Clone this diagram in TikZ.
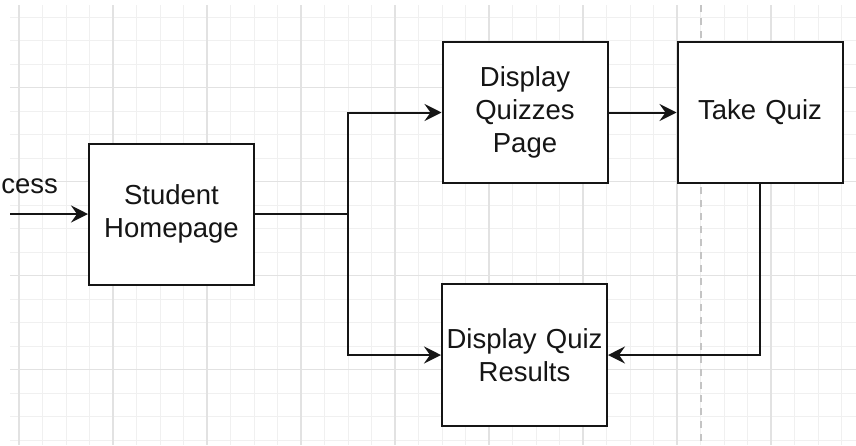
\documentclass[tikz,border=0pt]{standalone}
\usepackage{fontspec}
\setmainfont{Liberation Sans}
\usetikzlibrary{arrows.meta}
\definecolor{minorgrid}{HTML}{F0F0F0}
\definecolor{majorgrid}{HTML}{E2E2E2}
\definecolor{dashgray}{HTML}{C4C4C4}
\definecolor{ink}{HTML}{151515}
\tikzset{
  box/.style={draw=ink, line width=2pt, fill=white, minimum width=165pt, minimum height=141pt,
    text width=163pt, align=center, inner sep=0pt, text=ink,
    font=\fontsize{27.5pt}{33pt}\selectfont},
  conn/.style={draw=ink, line width=2pt},
  arr/.style={conn, -{Stealth[length=17pt, width=17pt, inset=6pt]}},
}
\begin{document}
\begin{tikzpicture}[x=1pt, y=-1pt]
\useasboundingbox (0,0) rectangle (856,445);
\fill[white] (0,0) rectangle (856,445);
% grid
\begin{scope}
\clip (10,5) rectangle (856,445);
\foreach \i in {0,...,36} {
  \draw[minorgrid, line width=1pt] ({19+23.5*\i},0) -- ({19+23.5*\i},445);
}
\foreach \i in {0,...,19} {
  \draw[minorgrid, line width=1pt] (0,{17.2+23.5*\i}) -- (856,{17.2+23.5*\i});
}
\foreach \i in {0,...,9} {
  \draw[majorgrid, line width=1.2pt] ({19+94*\i},0) -- ({19+94*\i},445);
}
\foreach \i in {0,...,4} {
  \draw[majorgrid, line width=1.2pt] (0,{87.7+94*\i}) -- (856,{87.7+94*\i});
}
\end{scope}
% dashed page break
\coordinate (dtop) at (701,5);
\coordinate (dbot) at (701,445);
\draw[dashgray, line width=1.5pt, dash pattern=on 7pt off 6pt] (dtop) -- (dbot);
% incoming label
\node[anchor=base east, inner sep=0pt, text=ink, font=\fontsize{27.5pt}{33pt}\selectfont] (lbl) at (58,193) {cess};
% boxes
\node[box] (S) at (171.5,214) {Student\\Homepage};
\node[box, minimum height=141pt] (DQP) at (525,112.5) {Display\\Quizzes\\Page};
\node[box, minimum height=141pt] (TQ) at (760,112.5) {Take Quiz};
\node[box, minimum height=142pt] (DQR) at (524.5,355) {Display Quiz\\Results};
% connectors
\coordinate (in) at (10,214);
\coordinate (j) at (348,214);
\draw[arr] (in) -- (S.west);
\draw[conn, line width=1.3pt] (S.east) -- (j);
\draw[arr] (j) |- (DQP.west);
\draw[arr] (j) |- (DQR.west);
\draw[arr] (DQP.east) -- (TQ.west);
\draw[arr] (TQ.south) |- (DQR.east);
\end{tikzpicture}
\end{document}
